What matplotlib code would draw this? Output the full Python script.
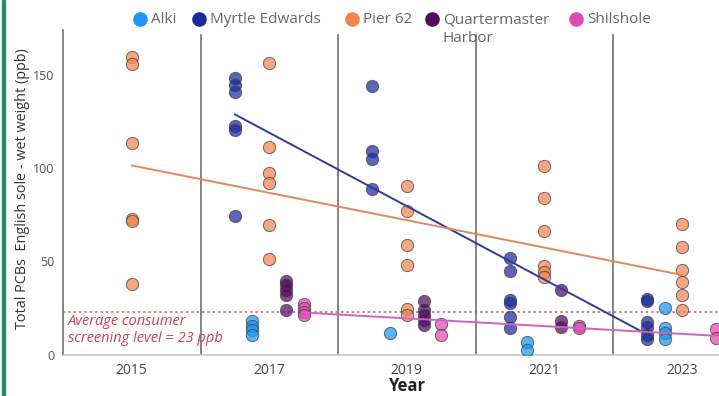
import matplotlib.pyplot as plt
import numpy as np
from matplotlib.lines import Line2D
from matplotlib.patches import Rectangle

plt.rcParams['font.family'] = ['Open Sans', 'DejaVu Sans']

# Total PCBs in English sole (ppb, wet weight) by site and survey year
alki_years = [2017, 2017, 2017, 2017, 2019, 2021, 2021, 2023, 2023, 2023, 2023]
alki_pcb = [18, 15.5, 13, 10.5, 11.5, 6.5, 2.5, 25, 14, 11.5, 8.5]

myrtle_years = [2017] * 6 + [2019] * 4 + [2021] * 6 + [2023] * 6
myrtle_pcb = [148, 144.5, 141, 122.5, 120.5, 74.5,
              144, 109, 105, 88.5,
              51.5, 45, 29, 27.5, 20, 14,
              30, 28.5, 17.5, 15, 10.5, 8.5]

pier_years = [2015] * 6 + [2017] * 6 + [2019] * 6 + [2021] * 6 + [2023] * 6
pier_pcb = [159.5, 156, 113.5, 72.5, 71.5, 38,
            156.5, 111.5, 97.5, 92, 69.5, 51,
            90.5, 77, 58.5, 48, 24.5, 21,
            101, 84, 66, 47.5, 44, 41.5,
            70, 57.5, 45.5, 39, 32, 24]

qm_years = [2017] * 5 + [2019] * 5 + [2021] * 3
qm_pcb = [39.5, 37, 34.5, 32, 24,
          28.5, 24, 21, 18.5, 16,
          34.5, 18, 15]

shilshole_years = [2017] * 4 + [2019] * 2 + [2021] * 2 + [2023] * 2
shilshole_pcb = [27, 25, 23, 21, 16.5, 10.5, 15.5, 14, 13.5, 9]

screening_level = 23
year_ticks = [2015, 2017, 2019, 2021, 2023]

sites = [
    # label, years, values, colour, offset within the year band, trend line colour
    ("Alki", alki_years, alki_pcb, "#1a96f0", -0.25, None),
    ("Myrtle Edwards", myrtle_years, myrtle_pcb, "#1c2a9e", -0.5, "#2f3c9c"),
    ("Pier 62", pier_years, pier_pcb, "#f08550", 0.0, "#e0895c"),
    ("Quartermaster\nHarbor", qm_years, qm_pcb, "#520a62", 0.25, None),
    ("Shilshole", shilshole_years, shilshole_pcb, "#e04ab2", 0.5, "#d062c4"),
]

fig = plt.figure(figsize=(7.19, 3.96), dpi=100)
ax = fig.add_axes([63 / 719, 41.5 / 396, 656 / 719, 324.5 / 396])

for label, years, vals, color, offset, trend_color in sites:
    x = np.array(years) + offset
    y = np.array(vals)
    ax.scatter(x, y, s=78, color=color, alpha=0.72, edgecolor='#3a3a3a', linewidth=0.7, zorder=3)
    if trend_color:
        slope, intercept = np.polyfit(x, y, 1)
        xs = np.array([x.min(), x.max()])
        ax.plot(xs, slope * xs + intercept, color=trend_color, linewidth=1.4, zorder=4)

# screening level reference
ax.axhline(screening_level, color='#c85a6e', linestyle=(0, (1.5, 2)), linewidth=1.1, zorder=2)
ax.text(2014.07, screening_level - 1.5, "Average consumer\nscreening level = 23 ppb",
        color='#cf3f5c', fontsize=10.5, style='italic', va='top', ha='left', linespacing=1.15)

# year band separators
for xv in [2016, 2018, 2020, 2022]:
    ax.axvline(xv, color='#707070', linewidth=1.2, ymax=0.985, zorder=1)

ax.set_xlim(2014, 2014 + 656 / 68.75)
ax.set_ylim(0, 174)
ax.set_xticks(year_ticks)
ax.set_xticklabels([str(y) for y in year_ticks], fontsize=10, color='#444444')
ax.set_yticks([0, 50, 100, 150])
ax.tick_params(axis='y', labelsize=9, colors='#555555', length=0, pad=6)
ax.tick_params(axis='x', length=0, pad=6)
for side in ['top', 'right']:
    ax.spines[side].set_visible(False)
ax.spines['left'].set_color('#707070')
ax.spines['left'].set_linewidth(1.2)
ax.spines['bottom'].set_color('#c8c8c8')
ax.spines['bottom'].set_linewidth(1.2)

ax.set_xlabel('Year', fontsize=12, fontweight='bold', color='#222222')
ax.xaxis.set_label_coords(0.524, -0.07)
ax.set_ylabel('Total PCBs  English sole - wet weight (ppb)', fontsize=10.4, color='#333333')
ax.yaxis.set_label_coords(-0.051, 0.51)

# legend across the top, wrapped label keeps its marker on the first line
legend_x = [140, 199, 352, 432, 576]
for (label, _, _, color, _, _), px in zip(sites, legend_x):
    fig.add_artist(Line2D([px / 719], [1 - 19 / 396], transform=fig.transFigure,
                          marker='o', markersize=10.5, color=color, markeredgewidth=0))
    fig.text((px + 11) / 719, 1 - 12 / 396, label, fontsize=11, color='#666666',
             va='top', ha='left', linespacing=1.4, transform=fig.transFigure)

# green accent bar on the left edge
fig.patches.append(Rectangle((2 / 719, 0), 3 / 719, 1, transform=fig.transFigure,
                             color='#2a8a6c', zorder=10))

plt.savefig('out.png', dpi=100)
